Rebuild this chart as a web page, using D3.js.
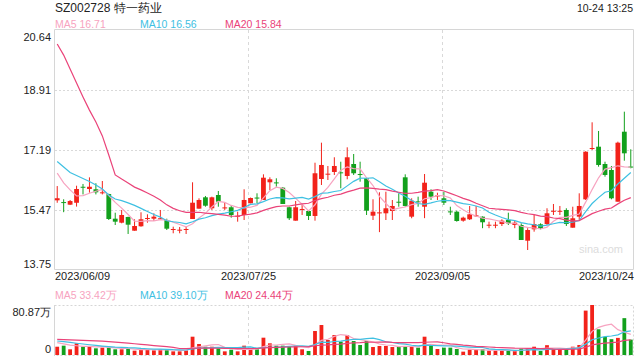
<!DOCTYPE html>
<html><head><meta charset="utf-8">
<script src="https://cdn.jsdelivr.net/npm/d3@7"></script>
<style>body{margin:0;background:#fff}svg{display:block;font-family:"Liberation Sans",Arial,sans-serif}</style>
</head><body><svg id="c" width="640" height="360"></svg>
<script>
const title = "SZ002728 特一药业";
const stamp = "10-24 13:25";
const xTickIdx = [0, 30, 60, 89];
const xTickLabels = ["2023/06/09", "2023/07/25", "2023/09/05", "2023/10/24"];
const priceTicks = [13.75, 15.47, 17.19, 18.91, 20.64];
const volTicks = [0, 80.87];
const priceLegend = [["MA5", "16.71"], ["MA10", "16.56"], ["MA20", "15.84"]];
const volLegend = [["MA5", "33.42万"], ["MA10", "39.10万"], ["MA20", "24.44万"]];

const open = [15.75,15.70,15.625,15.68,16.14,16.075,16.067,15.952,15.93,15.223,
15.108,15.272,14.878,15.005,15.226,15.223,15.214,15.185,14.91,14.89,
14.91,15.214,15.511,15.837,15.522,15.903,15.53,15.551,15.281,15.329,
15.665,15.83,15.76,16.268,16.265,16.113,15.551,15.166,15.484,15.444,
15.301,16.363,16.498,16.564,16.554,16.449,16.793,16.505,16.383,15.309,
15.387,15.378,15.444,15.71,16.411,15.281,15.72,15.567,15.998,15.87,
15.808,15.433,15.424,15.166,15.206,15.30,15.281,15.03,15.03,15.07,
15.185,15.042,15.042,14.591,14.918,15.062,15.07,15.43,15.43,15.473,
14.965,15.281,15.779,17.235,17.29,16.793,16.621,15.711,17.72,16.72];
const high = [16.16,15.78,15.76,16.17,16.22,16.41,16.24,16.305,15.94,15.395,
15.473,15.28,15.206,15.407,15.349,15.378,15.473,15.223,14.993,14.985,
14.993,16.268,15.808,15.875,15.855,16.018,15.682,15.616,15.424,16.067,
15.83,15.952,16.497,16.411,16.383,16.133,15.567,15.731,15.616,15.473,
16.83,17.405,16.736,16.986,16.859,17.272,17.08,16.859,16.39,15.78,
15.981,15.998,15.76,15.952,16.497,15.808,15.855,16.506,16.067,15.969,
15.998,15.567,15.453,15.281,15.588,15.588,15.29,15.137,15.137,15.206,
15.395,15.166,15.09,14.95,15.329,15.09,15.522,15.645,15.588,15.522,
15.567,15.952,17.16,17.99,17.741,16.859,16.736,17.434,18.295,17.215];
const low = [15.68,15.41,15.615,15.57,15.92,15.97,15.92,15.92,15.185,15.042,
15.09,14.784,14.878,14.993,15.108,15.157,15.185,14.898,14.804,14.804,
14.784,15.214,15.511,15.567,15.473,15.567,15.473,15.252,15.137,15.185,
15.665,15.665,15.76,16.047,16.141,15.645,15.185,15.166,15.329,15.185,
15.166,16.19,16.334,16.478,16.095,16.354,16.478,16.285,15.329,15.185,
14.837,15.185,15.185,15.567,15.567,15.235,15.567,15.238,15.76,15.76,
15.616,15.329,15.137,15.137,15.185,15.281,14.95,14.95,14.95,15.013,
15.042,14.95,14.611,14.324,14.85,14.918,15.042,15.329,15.329,15.013,
14.965,15.185,15.76,17.195,16.716,16.429,15.78,15.711,16.888,16.67];
const close = [15.81,15.685,15.73,16.075,16.13,16.14,15.98,15.98,15.214,15.137,
15.329,15.051,15.013,15.206,15.243,15.281,15.235,14.936,14.927,14.907,
14.927,15.682,15.76,15.596,15.837,15.711,15.547,15.329,15.309,15.76,
15.817,15.81,16.40,16.354,16.25,15.645,15.235,15.551,15.502,15.301,
16.527,16.765,16.515,16.736,16.535,16.986,16.527,16.49,15.453,15.424,
15.404,15.522,15.588,15.69,15.588,15.74,15.70,16.256,15.855,15.89,
15.682,15.415,15.157,15.252,15.349,15.32,15.12,15.05,15.05,15.166,
15.09,15.108,14.611,14.898,15.07,14.947,15.378,15.45,15.45,15.07,
15.235,15.588,17.146,17.252,16.765,16.478,15.808,17.405,17.10,16.71];
const volume = [13.4,15.1,9.2,18.9,13.4,13.4,10.8,11.9,11.9,9.2,
9.2,10.2,7.0,8.6,9.2,7.5,9.2,9.7,5.9,5.9,
7.5,29.6,17.8,13.4,13.4,10.8,5.9,8.6,5.9,15.1,
9.7,9.2,28.0,18.9,15.1,15.1,13.4,15.1,9.2,6.5,
38.8,48.5,24.3,32.3,21.6,32.3,22.6,16.2,22.6,12.9,
14.6,14.6,12.9,13.4,14.6,13.4,11.9,29.6,16.2,9.7,
11.9,11.9,9.7,5.4,8.6,8.6,9.7,7.0,7.0,7.0,
6.5,6.5,10.2,10.2,13.4,6.5,15.9,10.2,9.2,9.2,
13.4,16.2,71.8,80.87,41.6,29.3,25.6,27.7,59.6,24.9];

const ma5Head = [16.53, 16.25, 16.05, 15.875];
const ma10Head = [16.865, 16.707, 16.549, 16.463, 16.377, 16.291, 16.19, 16.075, 15.903];
const ma20Head = [20.238, 19.92, 19.52, 19.12, 18.72, 18.34, 18.0, 17.6, 17.05, 16.48,
  16.36, 16.25, 16.13, 16.05, 15.96, 15.87, 15.76, 15.62, 15.52];
const vma5Head = [19.9, 18.0, 16.0, 15.0];
const vma10Head = [22.6, 21.5, 20.3, 19.0, 17.8, 16.6, 15.5, 14.5, 13.6];
const vma20Head = [25.4, 25.0, 24.6, 24.2, 23.8, 23.3, 22.9, 22.3, 21.6, 20.9,
  20.1, 19.2, 18.2, 17.3, 16.3, 15.3, 14.4, 13.4, 12.4];

const C_UP = "#f2221a", C_DN = "#12a01c";
const C_MA5 = "#f7a3c0", C_MA10 = "#3ec0e2", C_MA20 = "#ea4379";
const maColors = [C_MA5, C_MA10, C_MA20];

function movAvg(arr, n, head) {
  return arr.map((v, i) => i < head.length ? head[i] : d3.mean(arr.slice(i - n + 1, i + 1)));
}

const svg = d3.select("#c");
svg.append("rect").attr("width", 640).attr("height", 360).attr("fill", "#fff");

const N = close.length;
const x = d3.scaleBand().domain(d3.range(N)).range([54, 634]);
const cx = i => x(i) + x.bandwidth() / 2;
const y = d3.scaleLinear().domain([13.75, 20.64]).range([270, 30]);
const vy = d3.scaleLinear().domain([0, 80.87]).range([355, 305]);

// header
svg.append("text").attr("x", 55).attr("y", 12).attr("font-size", 12).attr("fill", "#222").text(title);
svg.append("text").attr("x", 633).attr("y", 12).attr("font-size", 10.5).attr("fill", "#222")
  .attr("text-anchor", "end").text(stamp);

const legX = [55, 140, 225];
svg.selectAll(".pleg").data(priceLegend).join("text")
  .attr("x", (d, i) => legX[i]).attr("y", 28).attr("font-size", 10.5)
  .attr("fill", (d, i) => maColors[i]).text(d => d[0] + " " + d[1]);
svg.selectAll(".vleg").data(volLegend).join("text")
  .attr("x", (d, i) => legX[i]).attr("y", 299).attr("font-size", 10.5)
  .attr("fill", (d, i) => maColors[i]).text(d => d[0] + " " + d[1]);

// grid lines
const g = svg.append("g");
g.selectAll(".hg").data(priceTicks.slice(1, 4)).join("line")
  .attr("x1", 55).attr("x2", 633).attr("y1", d => Math.round(y(d)) + 0.5).attr("y2", d => Math.round(y(d)) + 0.5)
  .attr("stroke", "#d9d9d9").attr("stroke-dasharray", "2,2");
g.selectAll(".vg").data(xTickIdx.slice(1, 3)).join("line")
  .attr("x1", d => Math.round(x(d)) + 1.5).attr("x2", d => Math.round(x(d)) + 1.5)
  .attr("y1", 30).attr("y2", 269).attr("stroke", "#d9d9d9").attr("stroke-dasharray", "3,3");
g.selectAll(".vg2").data(xTickIdx.slice(1, 3)).join("line")
  .attr("x1", d => Math.round(x(d)) + 1.5).attr("x2", d => Math.round(x(d)) + 1.5)
  .attr("y1", 305).attr("y2", 355).attr("stroke", "#d9d9d9").attr("stroke-dasharray", "3,3");
// borders
g.append("path").attr("d", "M54.5,269.5V29.5H633.5V269.5H54.5").attr("fill", "none").attr("stroke", "#d6d6d6");
g.append("path").attr("d", "M54.5,305.5H633.5V355.5H54.5").attr("fill", "none").attr("stroke", "#d6d6d6").attr("stroke-dasharray", "2,2");
g.append("line").attr("x1", 54.5).attr("x2", 54.5).attr("y1", 305).attr("y2", 356).attr("stroke", "#d6d6d6");

// watermark
svg.append("text").attr("x", 623).attr("y", 253).attr("text-anchor", "end").attr("font-size", 11)
  .attr("fill", "#dcdcdc").text("sina.com");

// y axes
const yAxis = d3.axisLeft(y).tickValues(priceTicks).tickSize(0).tickPadding(0).tickFormat(d3.format(".2f"));
const ya = svg.append("g").attr("transform", "translate(51,0)").call(yAxis);
ya.select(".domain").remove();
ya.selectAll("text").attr("font-size", 11).attr("fill", "#222").attr("font-family", "Liberation Sans, Arial")
  .attr("dy", d => d === 20.64 ? "0.95em" : d === 13.75 ? "-0.2em" : "0.32em");

const vAxis = d3.axisLeft(vy).tickValues(volTicks).tickSize(0).tickPadding(0)
  .tickFormat(d => d === 0 ? "0" : d3.format(".2f")(d) + "万");
const va = svg.append("g").attr("transform", "translate(51,0)").call(vAxis);
va.select(".domain").remove();
va.selectAll("text").attr("font-size", 11).attr("fill", "#222").attr("font-family", "Liberation Sans, Arial")
  .attr("dy", d => d === 0 ? "-0.25em" : "0.95em");

// x axis labels
const xAxis = d3.axisBottom(x).tickValues(xTickIdx).tickSize(0).tickPadding(0)
  .tickFormat((d, i) => xTickLabels[i]);
const xa = svg.append("g").attr("transform", "translate(0,272)").call(xAxis);
xa.select(".domain").remove();
xa.selectAll(".tick").attr("transform", (d, i) => {
  const px = i === 0 ? 55 : i === xTickIdx.length - 1 ? 634 : Math.round(x(d)) + 1.5;
  return "translate(" + px + ",0)";
});
xa.selectAll("text").attr("font-size", 11).attr("fill", "#222").attr("font-family", "Liberation Sans, Arial")
  .attr("dy", "0.71em")
  .attr("text-anchor", (d, i) => i === 0 ? "start" : i === xTickIdx.length - 1 ? "end" : "middle");

// candles
const idx = d3.range(N);
const up = i => close[i] >= open[i];
const cg = svg.append("g");
cg.selectAll(".wick").data(idx).join("line")
  .attr("x1", cx).attr("x2", cx).attr("y1", i => y(high[i])).attr("y2", i => y(low[i]))
  .attr("stroke", i => up(i) ? C_UP : C_DN).attr("stroke-width", 1);
const bw = 4.8;
cg.selectAll(".body").data(idx).join("rect")
  .attr("x", i => cx(i) - bw / 2).attr("width", bw)
  .attr("y", i => y(Math.max(open[i], close[i])))
  .attr("height", i => Math.max(1, Math.abs(y(open[i]) - y(close[i]))))
  .attr("fill", i => up(i) ? C_UP : C_DN);

// price MAs
const ma5 = movAvg(close, 5, ma5Head), ma10 = movAvg(close, 10, ma10Head), ma20 = movAvg(close, 20, ma20Head);
const lineP = d3.line().x((d, i) => cx(i)).y(d => y(d));
[[ma5, C_MA5], [ma10, C_MA10], [ma20, C_MA20]].forEach(([arr, col]) => {
  svg.append("path").attr("d", lineP(arr)).attr("fill", "none").attr("stroke", col).attr("stroke-width", 1.2);
});

// volume
const vbw = 3.8;
svg.append("g").selectAll("rect").data(idx).join("rect")
  .attr("x", i => cx(i) - vbw / 2).attr("width", vbw)
  .attr("y", i => vy(volume[i])).attr("height", i => 355 - vy(volume[i]))
  .attr("fill", i => up(i) ? C_UP : C_DN);
const vma5 = movAvg(volume, 5, vma5Head), vma10 = movAvg(volume, 10, vma10Head), vma20 = movAvg(volume, 20, vma20Head);
const lineV = d3.line().x((d, i) => cx(i)).y(d => vy(d));
[[vma5, C_MA5], [vma10, C_MA10], [vma20, C_MA20]].forEach(([arr, col]) => {
  svg.append("path").attr("d", lineV(arr)).attr("fill", "none").attr("stroke", col).attr("stroke-width", 1.2);
});
</script></body></html>
